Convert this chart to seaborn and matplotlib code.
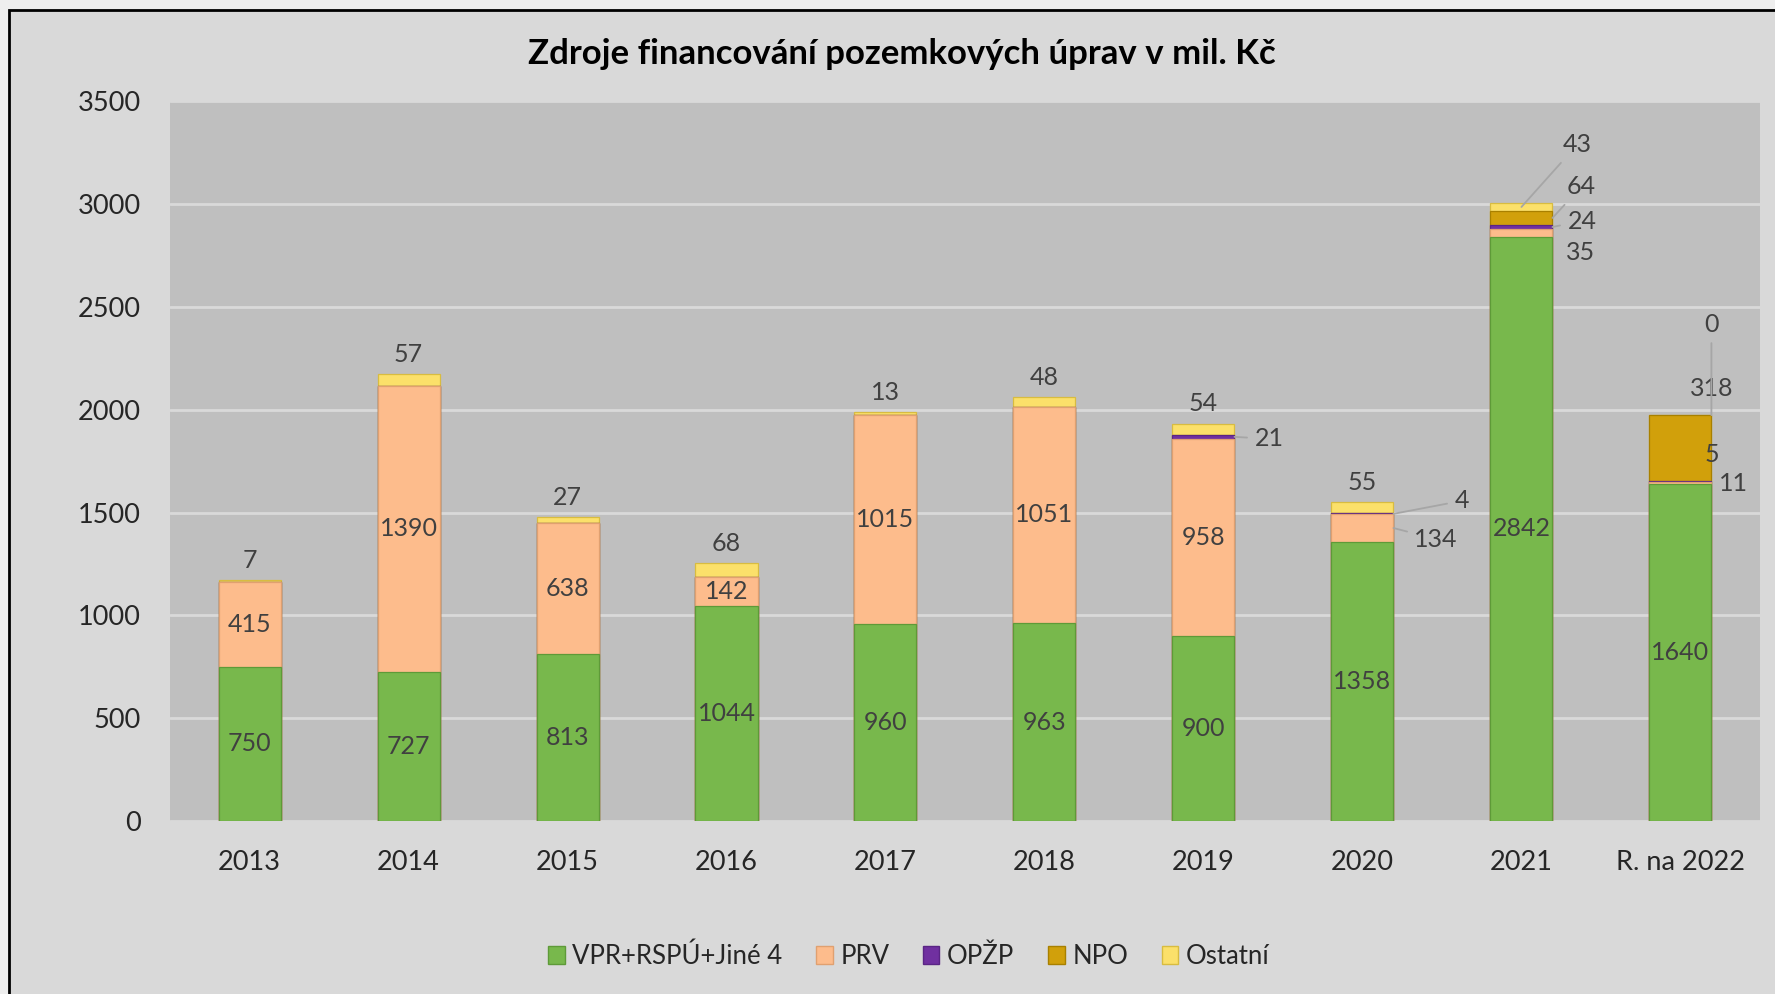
import matplotlib
matplotlib.use('Agg')
import matplotlib.pyplot as plt
from matplotlib.patches import Rectangle, Patch
import seaborn as sns
import numpy as np

years = ['2013', '2014', '2015', '2016', '2017', '2018', '2019', '2020', '2021', 'R. na 2022']
vpr = [750, 727, 813, 1044, 960, 963, 900, 1358, 2842, 1640]
prv = [415, 1390, 638, 142, 1015, 1051, 958, 134, 35, 11]
opzp = [0, 0, 0, 0, 0, 0, 21, 4, 24, 5]
npo = [0, 0, 0, 0, 0, 0, 0, 0, 64, 318]
ostatni = [7, 57, 27, 68, 13, 48, 54, 55, 43, 0]
series_names = ['VPR+RSPÚ+Jiné 4', 'PRV', 'OPŽP', 'NPO', 'Ostatní']

colors = ['#78b84c', '#fdbc8c', '#7030a0', '#d1a00b', '#fbe06a']
edges = ['#5e9a38', '#e0a070', '#5a2585', '#a88000', '#d8bc40']

sns.set_style("white")
plt.rcParams['font.family'] = ['Lato', 'DejaVu Sans']

series = [vpr, prv, opzp, npo, ostatni]
cum = np.cumsum(np.array(series, dtype=float), axis=0)
w = 0.39

fig = plt.figure(figsize=(17.75, 9.94), dpi=100, facecolor='#eeeeee')
fig.patches.append(Rectangle((9 / 1775, -0.05), 1.1, 1 - 10 / 994 + 0.05,
                             transform=fig.transFigure, facecolor='#d9d9d9',
                             edgecolor='black', linewidth=2, zorder=-5))
ax = fig.add_axes([0.0958, 0.174, 0.8957, 0.724])
ax.set_facecolor('#bfbfbf')

# stacked bars: draw cumulative totals from the top series down
for k in range(len(series) - 1, -1, -1):
    sns.barplot(x=years, y=cum[k], color=colors[k], width=w, ax=ax,
                edgecolor=edges[k], linewidth=0.9, saturation=1, zorder=3)

ax.set_ylim(0, 3500)
ax.set_xlim(-0.5, len(years) - 0.5)
ax.set_yticks(range(0, 3501, 500))
ax.yaxis.grid(True, color='#d9d9d9', linewidth=2)
ax.set_axisbelow(True)
for s in ax.spines.values():
    s.set_visible(False)
ax.tick_params(axis='both', length=0, labelsize=19.5, colors='#262626')
ax.tick_params(axis='x', pad=21)
ax.tick_params(axis='y', pad=21)
ax.set_xlabel('')
ax.set_ylabel('')

lab_kw = dict(fontsize=18, color='#404040', zorder=5)

# labels inside green and peach segments
for i in range(len(years)):
    ax.text(i, vpr[i] / 2, str(vpr[i]), ha='center', va='center', **lab_kw)
    if prv[i] > 140:
        ax.text(i, vpr[i] + prv[i] / 2, str(prv[i]), ha='center', va='center', **lab_kw)
    if i < 8:
        ax.annotate(str(ostatni[i]), (i, cum[4][i]), xytext=(0, 20),
                    textcoords='offset pixels', ha='center', va='center', **lab_kw)

# labels placed beside the bars (series index, category index)
side = {
    (2, 6): ('right', 20, -2, 'left', True),
    (1, 7): ('right', 21, -11, 'left', True),
    (2, 7): ('right', 61, 13, 'left', True),
    (1, 8): ('right', 14, -19, 'left', False),
    (2, 8): ('right', 15, 6, 'left', True),
    (3, 8): ('right', 14, 31, 'left', True),
    (4, 8): ('center', 41, 62, 'left', True),
    (1, 9): ('right', 8, -1, 'left', False),
    (2, 9): ('right', 0, 27, 'center', False),
    (3, 9): ('right', 0, 59, 'center', False),
    (4, 9): ('right', 0, 91, 'center', True),
}
for (k, i), (anchor, dx, dy, ha, leader) in side.items():
    val = series[k][i]
    y0 = cum[k][i] - val / 2
    x0 = i + w / 2 if anchor == 'right' else i
    arrow = dict(arrowstyle='-', color='#a6a6a6', lw=1.3, shrinkA=3, shrinkB=0) if leader else None
    ax.annotate(str(val), (x0, y0), xytext=(dx, dy), textcoords='offset pixels',
                ha=ha, va='center', arrowprops=arrow, **lab_kw)

fig.text(0.508, 0.946, 'Zdroje financování pozemkových úprav v mil. Kč',
         ha='center', va='center', fontsize=25, fontweight='bold', color='black')

handles = [Patch(facecolor=colors[k], edgecolor=edges[k], label=series_names[k])
           for k in range(len(series))]
fig.legend(handles=handles, loc='center', bbox_to_anchor=(0.512, 0.038), ncol=5,
           frameon=False, fontsize=18.5, handlelength=0.65, handleheight=0.65,
           handletextpad=0.3, columnspacing=1.3, labelcolor='#262626')

fig.savefig('out.png', dpi=100, facecolor=fig.get_facecolor())
